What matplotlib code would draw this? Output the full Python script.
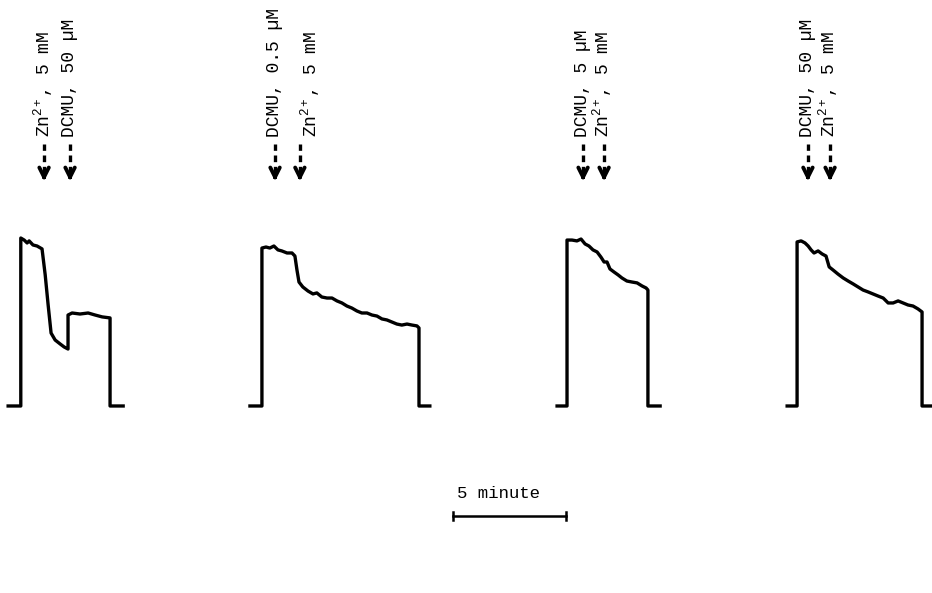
import matplotlib.pyplot as plt

plt.rcParams['font.family'] = ['Liberation Mono', 'DejaVu Sans Mono']
plt.rcParams['mathtext.fontset'] = 'custom'
plt.rcParams['mathtext.rm'] = 'Liberation Mono'
plt.rcParams['mathtext.it'] = 'Liberation Mono'

# onset of illumination for each trace (minutes on a common time axis)
onsets = [0.92, 11.59, 25.09, 35.27]

# traces: time after onset (min), signal (arbitrary units, baseline = 0)
t1 = [-0.56, 0, 0, 0.15, 0.28, 0.37, 0.54, 0.72, 0.94, 1.08, 1.21, 1.34, 1.52,
      1.74, 1.92, 2.09, 2.09, 2.27, 2.62, 2.98, 3.29, 3.60, 3.95, 3.95, 4.53]
s1 = [0, 0, 98.8, 97.6, 95.9, 97.1, 94.7, 94.1, 92.4, 77.1, 59.4, 42.9, 38.8,
      36.5, 34.7, 33.5, 53.5, 54.7, 54.1, 54.7, 53.5, 52.4, 51.8, 0, 0]

t2 = [-0.53, 0, 0, 0.18, 0.35, 0.53, 0.71, 0.88, 1.11, 1.33, 1.46, 1.55, 1.64,
      1.81, 2.04, 2.26, 2.43, 2.65, 2.88, 3.10, 3.32, 3.54, 3.76, 3.98, 4.20,
      4.42, 4.65, 4.87, 5.09, 5.31, 5.53, 5.75, 5.97, 6.19, 6.42, 6.64, 6.86,
      6.95, 6.95, 7.43]
s2 = [0, 0, 92.9, 93.5, 92.9, 94.1, 91.8, 91.2, 90.0, 90.0, 88.2, 80.0, 72.9,
      70.0, 67.6, 65.9, 66.5, 64.1, 63.5, 63.5, 61.8, 60.6, 58.8, 57.6, 55.9,
      54.7, 54.7, 53.5, 52.9, 51.2, 50.6, 49.4, 48.2, 47.6, 48.2, 47.6, 47.1,
      45.9, 0, 0]

t3 = [-0.44, 0, 0, 0.22, 0.44, 0.62, 0.80, 0.97, 1.15, 1.33, 1.50, 1.64, 1.77,
      1.90, 2.08, 2.26, 2.43, 2.65, 2.88, 3.10, 3.32, 3.50, 3.58, 3.58, 4.12]
s3 = [0, 0, 97.6, 97.6, 97.1, 98.2, 95.3, 94.1, 91.8, 90.6, 87.6, 84.7, 84.7,
      80.6, 78.8, 77.1, 75.3, 73.5, 72.9, 72.4, 70.6, 69.4, 68.2, 0, 0]

t4 = [-0.44, 0, 0, 0.18, 0.35, 0.49, 0.62, 0.75, 0.93, 1.11, 1.28, 1.42, 1.59,
      1.81, 2.04, 2.26, 2.48, 2.70, 2.92, 3.14, 3.36, 3.58, 3.81, 4.03, 4.25,
      4.47, 4.69, 4.91, 5.13, 5.35, 5.53, 5.53, 5.97]
s4 = [0, 0, 96.5, 97.1, 95.9, 94.1, 91.8, 90.0, 91.2, 89.4, 88.2, 81.8, 80.0,
      77.6, 75.3, 73.5, 71.8, 70.0, 68.2, 67.1, 65.9, 64.7, 63.5, 60.6, 60.6,
      61.8, 60.6, 59.4, 58.8, 57.1, 55.3, 0, 0]

times = [t1, t2, t3, t4]
signals = [s1, s2, s3, s4]

# additions: arrow position (min), label position (min), label text
arrow_x = [1.95, 3.10, 12.17, 13.27, 25.80, 26.73, 35.75, 36.73]
label_x = [2.18, 3.29, 12.35, 13.98, 25.97, 26.90, 35.93, 36.90]
labels = ['Zn$^{2+}$, 5 mM', 'DCMU, 50 µM',
          'DCMU, 0.5 µM', 'Zn$^{2+}$, 5 mM',
          'DCMU, 5 µM', 'Zn$^{2+}$, 5 mM',
          'DCMU, 50 µM', 'Zn$^{2+}$, 5 mM']

scale_start = 20.04
scale_len = 5  # minutes

fig = plt.figure(figsize=(9.32, 5.93), dpi=100)
ax = fig.add_axes([0, 0, 1, 1])
ax.set_xlim(0, 41.24)
ax.set_ylim(-110, 238.8)
ax.axis('off')

for t0, t, s in zip(onsets, times, signals):
    ax.plot([t0 + v for v in t], s, color='black', lw=2.4,
            solid_joinstyle='round')

tip, head_top, dash_top, text_y = 130.5, 137, 154, 158
for xa, xl, lab in zip(arrow_x, label_x, labels):
    ax.plot([xa, xa], [head_top, dash_top], color='black', lw=2.4,
            ls=(0, (2.0, 1.4)))
    ax.annotate('', xy=(xa, tip), xytext=(xa, head_top + 1),
                arrowprops=dict(arrowstyle='->', lw=2.8, color='black',
                                mutation_scale=17))
    ax.text(xl, text_y, lab, rotation=90, rotation_mode='anchor',
            ha='left', va='baseline', fontsize=13)

# scale bar
sb_y = -64.7
ax.plot([scale_start, scale_start + scale_len], [sb_y, sb_y], color='black', lw=1.8)
for xe in (scale_start, scale_start + scale_len):
    ax.plot([xe, xe], [sb_y - 2.5, sb_y + 2.5], color='black', lw=1.8)
ax.text(scale_start + 2.0, sb_y + 9, '5 minute', ha='center',
        va='bottom', fontsize=12.5)

fig.savefig('out.png', dpi=100, facecolor='white')
